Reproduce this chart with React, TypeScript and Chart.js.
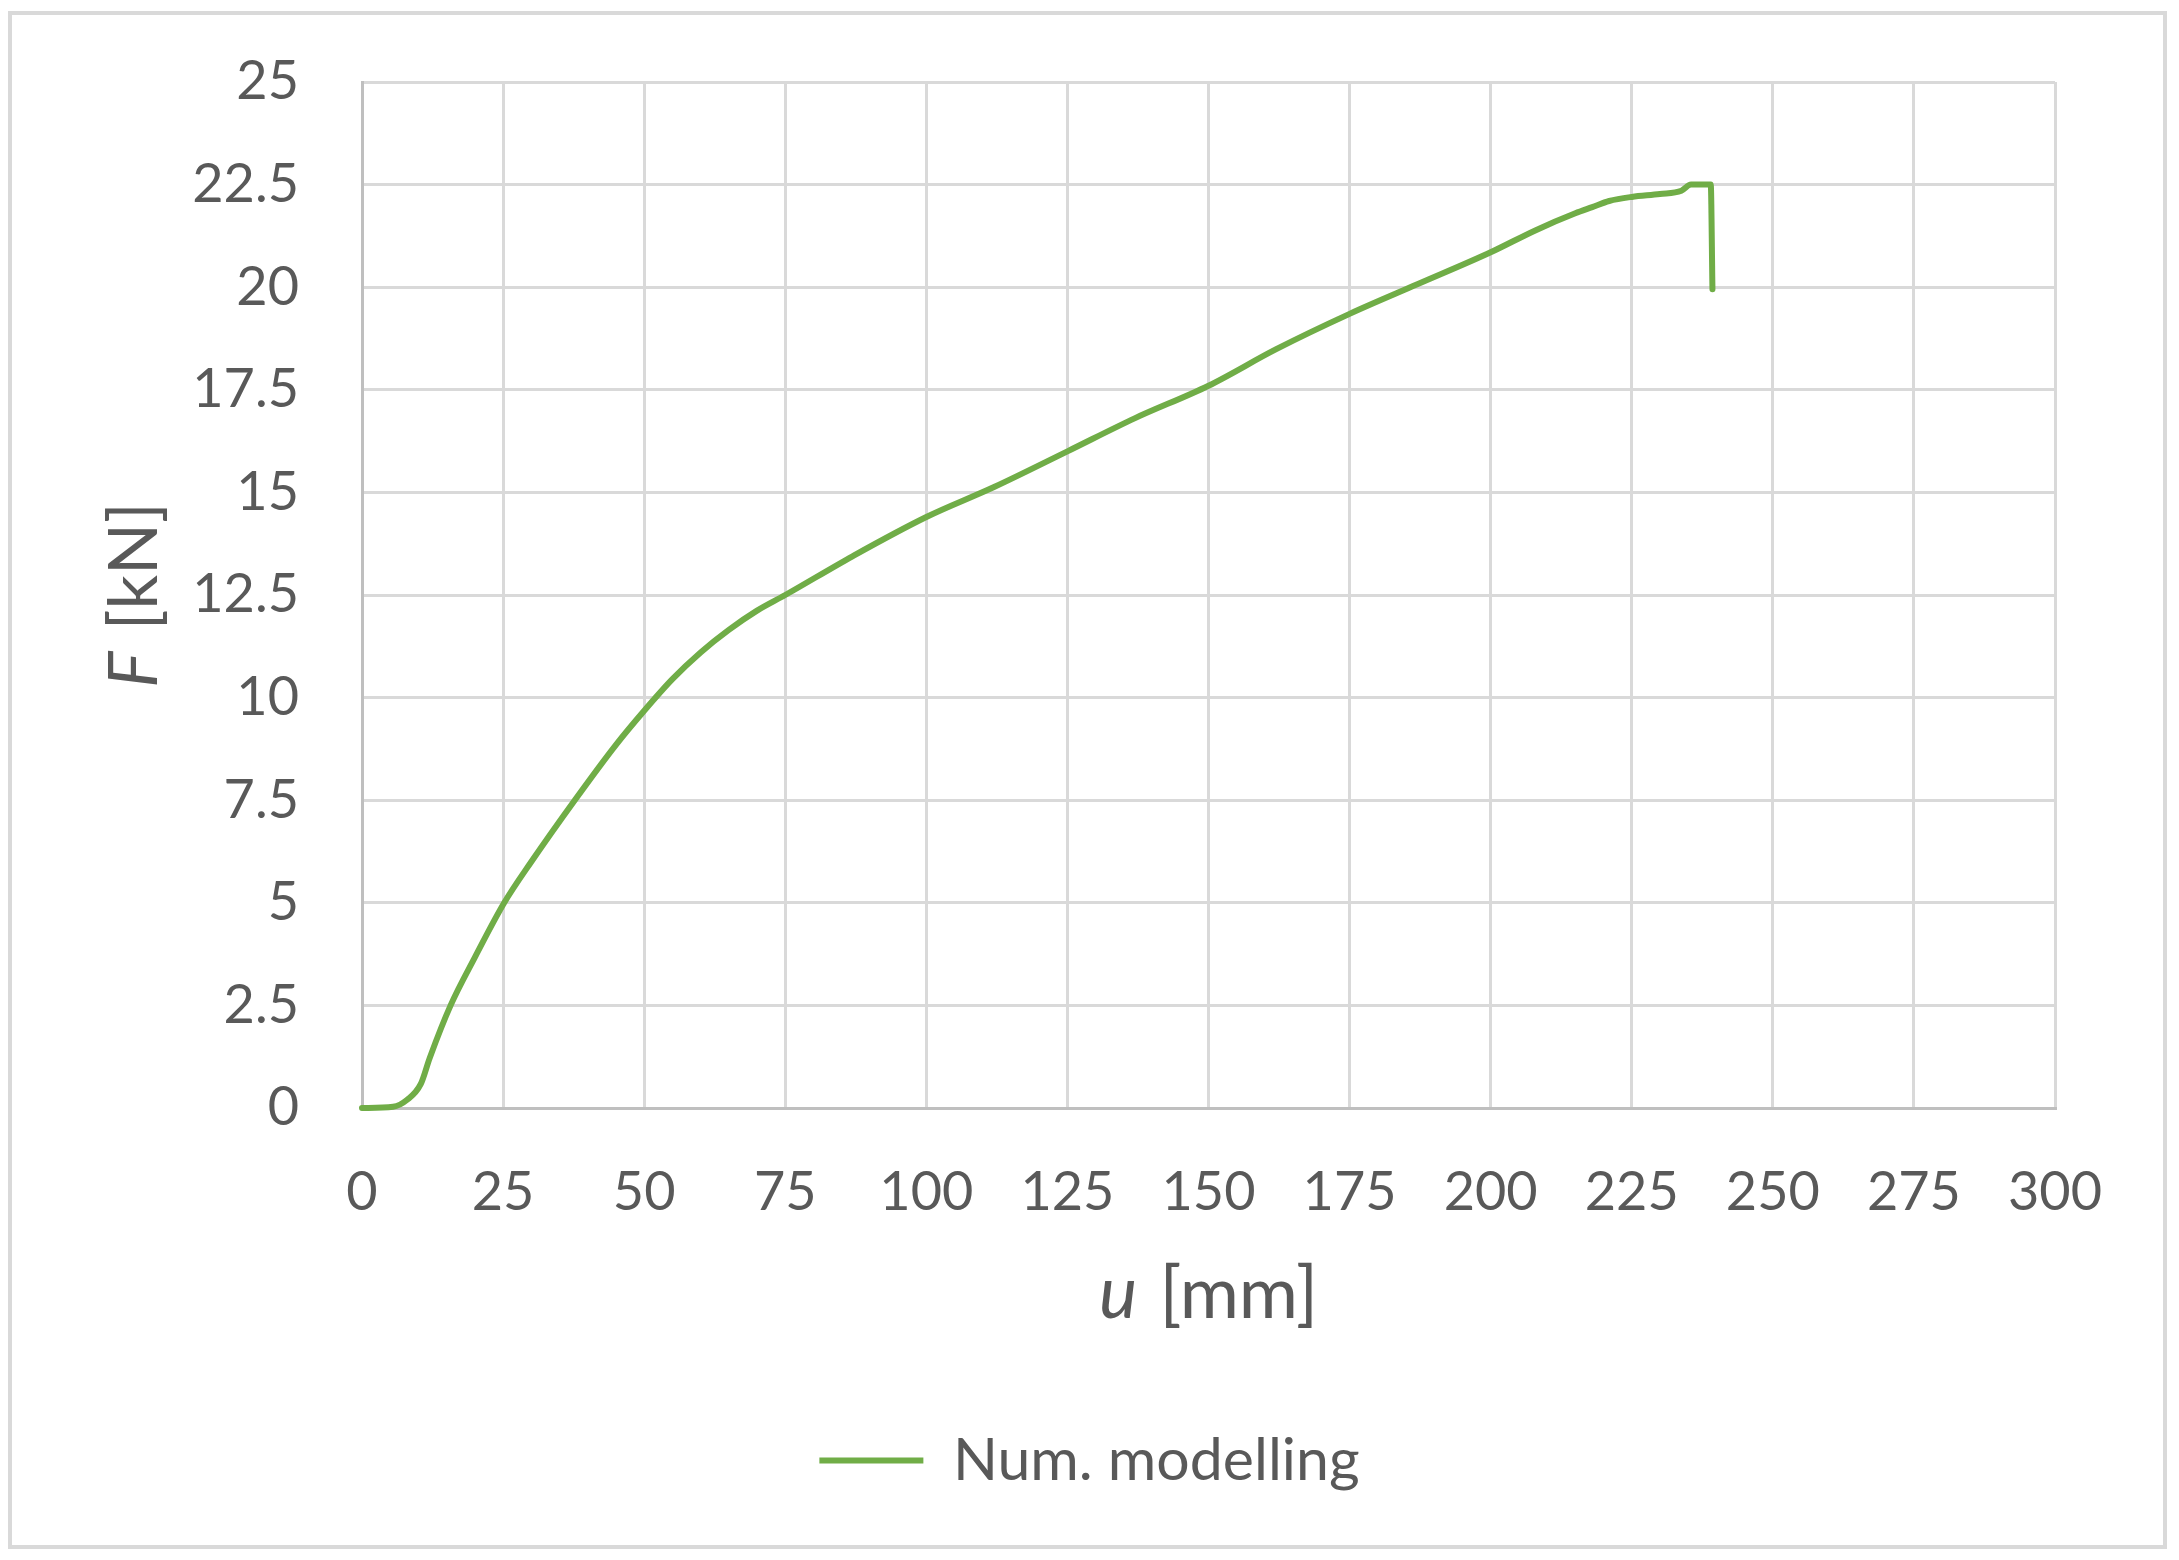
import React, { useEffect, useRef } from 'react';
import { Chart, registerables } from 'chart.js';

Chart.register(...registerables);

// Displacement u [mm]
const uValues = [
  0, 5.5, 8, 10.4, 12, 15.7, 20, 25.2, 30, 37.7, 45, 50, 55, 60, 65, 70, 75,
  87, 100, 112, 125, 137, 150, 162, 175, 187, 200, 208, 215, 218, 221, 225,
  230, 233.8, 235.5, 239, 239.3,
];
// Force F [kN]
const fValues = [
  0, 0.03, 0.2, 0.58, 1.22, 2.5, 3.67, 5, 6.0, 7.5, 8.85, 9.68, 10.45, 11.1,
  11.65, 12.12, 12.5, 13.45, 14.4, 15.13, 16.0, 16.81, 17.6, 18.49, 19.35,
  20.07, 20.85, 21.39, 21.8, 21.95, 22.1, 22.2, 22.27, 22.35, 22.5, 22.5, 19.95,
];

const seriesLabel = 'Num. modelling';
const xTitleParts = ['u', ' [mm]'];
const yTitleParts = ['F', ' [kN]'];
const xRange = [0, 300];
const xStep = 25;
const yRange = [0, 25];
const yStep = 2.5;

const FONT = 'Lato, "Open Sans", "Noto Sans", sans-serif';
const TEXT = '#595959';

function drawMixed(c: CanvasRenderingContext2D, parts: string[], cx: number, cy: number, size: number) {
  const italic = `italic ${size}px ${FONT}`;
  const normal = `${size}px ${FONT}`;
  c.font = italic;
  const w1 = c.measureText(parts[0]).width;
  c.font = normal;
  const w2 = c.measureText(parts[1]).width;
  const x = cx - (w1 + w2 + 4) / 2;
  c.textAlign = 'left';
  c.textBaseline = 'middle';
  c.font = italic;
  c.fillText(parts[0], x, cy);
  c.font = normal;
  c.fillText(parts[1], x + w1 + 4, cy);
}

export default function App() {
  const ref = useRef<HTMLCanvasElement>(null);

  useEffect(() => {
    if (!ref.current) return;
    const points = uValues.map((u, i) => ({ x: u, y: fValues[i] }));

    const frame = {
      id: 'frame',
      beforeDraw(chart: any) {
        const c = chart.ctx;
        c.save();
        c.fillStyle = '#ffffff';
        c.fillRect(0, 0, chart.width, chart.height);
        c.strokeStyle = '#D9D9D9';
        c.lineWidth = 4;
        c.strokeRect(10, 13, 2155, 1534);
        c.restore();
      },
    };

    const titles = {
      id: 'titles',
      afterDraw(chart: any) {
        const c = chart.ctx;
        const a = chart.chartArea;
        c.save();
        c.fillStyle = TEXT;
        drawMixed(c, xTitleParts, (a.left + a.right) / 2, 1295, 72);
        c.translate(135, (a.top + a.bottom) / 2);
        c.rotate(-Math.PI / 2);
        drawMixed(c, yTitleParts, 0, 0, 68);
        c.restore();
      },
    };

    const tickFont = { family: FONT, size: 54 };

    const chart = new Chart(ref.current, {
      type: 'scatter',
      data: {
        datasets: [
          {
            label: seriesLabel,
            data: points,
            showLine: true,
            borderColor: '#70AD47',
            backgroundColor: '#70AD47',
            borderWidth: 6,
            pointRadius: 0,
            pointHoverRadius: 0,
            cubicInterpolationMode: 'monotone',
            borderJoinStyle: 'round',
            borderCapStyle: 'round',
            clip: 8,
          } as any,
        ],
      },
      options: {
        responsive: false,
        animation: false,
        devicePixelRatio: 1,
        layout: { padding: { left: 0, right: 0, top: 82, bottom: 60 } },
        plugins: {
          legend: {
            position: 'bottom',
            labels: {
              usePointStyle: true,
              pointStyle: 'line',
              pointStyleWidth: 104,
              font: { family: FONT, size: 59 },
              color: TEXT,
              padding: 10,
            },
          },
          tooltip: { enabled: false },
        },
        scales: {
          x: {
            type: 'linear',
            min: xRange[0],
            max: xRange[1],
            ticks: { stepSize: xStep, font: tickFont, color: TEXT, padding: 52 },
            grid: { color: '#D9D9D9', lineWidth: 3, drawTicks: false },
            border: { color: '#BFBFBF', width: 3 },
            afterFit(s: any) {
              s.height = 313;
            },
          },
          y: {
            type: 'linear',
            min: yRange[0],
            max: yRange[1],
            ticks: { stepSize: yStep, font: tickFont, color: TEXT, padding: 63 },
            grid: { color: '#D9D9D9', lineWidth: 3, drawTicks: false },
            border: { color: '#BFBFBF', width: 3 },
            afterFit(s: any) {
              s.width = 362;
              s.paddingTop = 0;
              s.paddingBottom = 0;
            },
          },
          y2: {
            type: 'linear',
            position: 'right',
            axis: 'y',
            grid: { display: false, drawTicks: false },
            ticks: { display: false },
            border: { display: false },
            afterFit(s: any) {
              s.width = 124;
            },
          },
        },
      } as any,
      plugins: [frame, titles],
    });

    return () => chart.destroy();
  }, []);

  return (
    <div style={{ position: 'fixed', left: 0, top: 0, width: 2179, height: 1560, background: '#fff' }}>
      <canvas ref={ref} width={2179} height={1560} style={{ display: 'block', width: 2179, height: 1560 }} />
    </div>
  );
}
